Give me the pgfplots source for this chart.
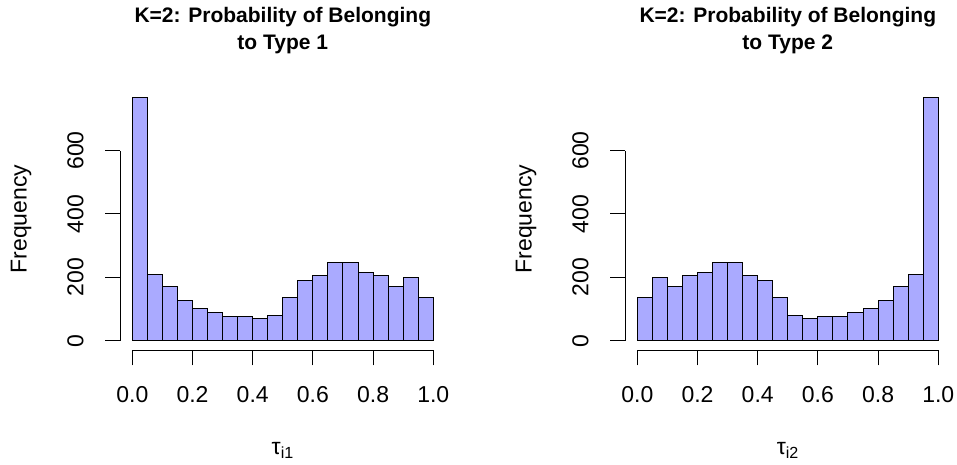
\documentclass[border=0pt]{standalone}
\usepackage{fontspec}
\setmainfont{Liberation Sans}
\usepackage{pgfplots}
\pgfplotsset{compat=1.18}
\definecolor{barfill}{RGB}{170,170,255}
\pgfplotsset{
 rhist/.style={
  scale only axis, width=325pt, height=262.9pt,
  xmin=-0.04, xmax=1.04, ymin=-30.72, ymax=798.72,
  axis lines*=left, axis line style={draw=none},
  clip=false,
  tick align=outside, major tick length=15pt,
  tick style={black, line width=1pt},
  xtick={0,0.2,0.4,0.6,0.8,1}, xticklabels={0.0,0.2,0.4,0.6,0.8,1.0},
  ytick={0,200,400,600}, yticklabels={0,200,400,600},
  /pgf/number format/assume math mode=true,
  ticklabel style={font=\fontsize{23}{27}\selectfont},
  xticklabel style={anchor=base, inner sep=0pt, yshift=-37pt},
  yticklabel style={xshift=-22pt, rotate=90, anchor=base, inner sep=0pt},
  label style={font=\fontsize{23}{27}\selectfont},
  xlabel style={at={(axis description cs:0.5,0)}, anchor=base, yshift=-104.3pt, inner sep=0pt},
  ylabel style={at={([xshift=-93.6pt]axis description cs:0,0.5)}, anchor=base, inner sep=0pt},
  title style={at={(axis description cs:0.5,1)}, anchor=south, yshift=28pt, inner sep=0pt, align=center, font=\fontsize{21}{26.6}\selectfont\bfseries},
  ylabel={Frequency},
 }
}
\begin{document}
\begin{tikzpicture}
\useasboundingbox (0,0) rectangle (957pt,465pt);
\begin{axis}[rhist, at={(120.3pt,114.5pt)}, anchor=south west,
  title={K=2: Probability of Belonging\\to Type 1},
  xlabel={τ\textsubscript{i1}}]
\addplot[ybar interval, fill=barfill, draw=black, line width=1pt] coordinates {
(0.00,768) (0.05,210) (0.10,172) (0.15,126) (0.20,101) (0.25,88) (0.30,77) (0.35,76) (0.40,71) (0.45,81)
(0.50,138) (0.55,190) (0.60,205) (0.65,246) (0.70,248) (0.75,216) (0.80,205) (0.85,170) (0.90,199) (0.95,138) (1.00,138)};
\draw[line width=1pt] (axis cs:0,-30.72) -- (axis cs:1,-30.72);
\draw[line width=1pt] (axis cs:-0.04,0) -- (axis cs:-0.04,600);
\end{axis}
\begin{axis}[rhist, at={(625.3pt,114.5pt)}, anchor=south west,
  title={K=2: Probability of Belonging\\to Type 2},
  xlabel={τ\textsubscript{i2}}]
\addplot[ybar interval, fill=barfill, draw=black, line width=1pt] coordinates {
(0.00,138) (0.05,199) (0.10,170) (0.15,205) (0.20,216) (0.25,248) (0.30,246) (0.35,205) (0.40,190) (0.45,138)
(0.50,81) (0.55,71) (0.60,76) (0.65,77) (0.70,88) (0.75,101) (0.80,126) (0.85,172) (0.90,210) (0.95,768) (1.00,768)};
\draw[line width=1pt] (axis cs:0,-30.72) -- (axis cs:1,-30.72);
\draw[line width=1pt] (axis cs:-0.04,0) -- (axis cs:-0.04,600);
\end{axis}
\end{tikzpicture}
\end{document}
